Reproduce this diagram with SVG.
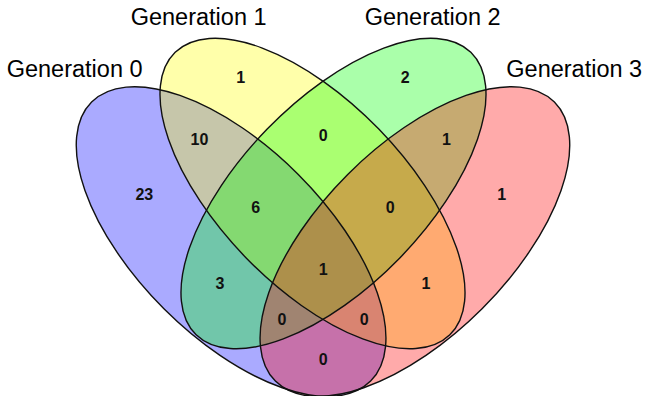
<svg xmlns="http://www.w3.org/2000/svg" width="646" height="396" viewBox="0 0 646 396">
  <defs>
    <style>
      .fill { fill-opacity: 0.333; stroke: none; }
      .outline { fill: none; stroke: #111; stroke-width: 1.4; }
      .setname { font-family: "Liberation Sans", Arial, sans-serif; font-size: 23.5px; fill: #000; }
      .count { font-family: "Liberation Sans", Arial, sans-serif; font-size: 16px; font-weight: bold; fill: #111; text-anchor: middle; }
    </style>
    <ellipse id="e0" cx="231.1" cy="241.6" rx="197.3" ry="95" transform="rotate(45 231.1 241.6)"/>
    <ellipse id="e1" cx="312.5" cy="193.5" rx="197" ry="92.5" transform="rotate(45.8 312.5 193.5)"/>
    <ellipse id="e2" cx="333.5" cy="193.5" rx="197" ry="92.5" transform="rotate(-45.8 333.5 193.5)"/>
    <ellipse id="e3" cx="414.9" cy="241.6" rx="197.3" ry="95" transform="rotate(-45 414.9 241.6)"/>
  </defs>
  <rect width="646" height="396" fill="#fff"/>
  <g id="fills">
    <use href="#e0" class="fill" fill="#0000ff"/>
    <use href="#e1" class="fill" fill="#ffff00"/>
    <use href="#e2" class="fill" fill="#00ff00"/>
    <use href="#e3" class="fill" fill="#ff0000"/>
  </g>
  <g id="outlines">
    <use href="#e0" class="outline"/>
    <use href="#e1" class="outline"/>
    <use href="#e2" class="outline"/>
    <use href="#e3" class="outline"/>
  </g>
  <g id="set-names">
    <text id="name-gen0" class="setname" x="6.7" y="77.3">Generation 0</text>
    <text id="name-gen1" class="setname" x="130.7" y="25">Generation 1</text>
    <text id="name-gen2" class="setname" x="364.7" y="25">Generation 2</text>
    <text id="name-gen3" class="setname" x="506.3" y="77.3">Generation 3</text>
  </g>
  <g id="counts">
    <text class="count" x="144.3" y="200">23</text>
    <text class="count" x="240.7" y="83">1</text>
    <text class="count" x="405.3" y="83">2</text>
    <text class="count" x="501.7" y="200">1</text>
    <text class="count" x="199.5" y="145">10</text>
    <text class="count" x="323.3" y="141">0</text>
    <text class="count" x="446.5" y="145">1</text>
    <text class="count" x="255.7" y="213">6</text>
    <text class="count" x="390.3" y="213">0</text>
    <text class="count" x="220" y="289">3</text>
    <text class="count" x="323.3" y="275">1</text>
    <text class="count" x="426" y="289">1</text>
    <text class="count" x="282" y="325">0</text>
    <text class="count" x="364.3" y="325">0</text>
    <text class="count" x="323.3" y="365">0</text>
  </g>
</svg>
